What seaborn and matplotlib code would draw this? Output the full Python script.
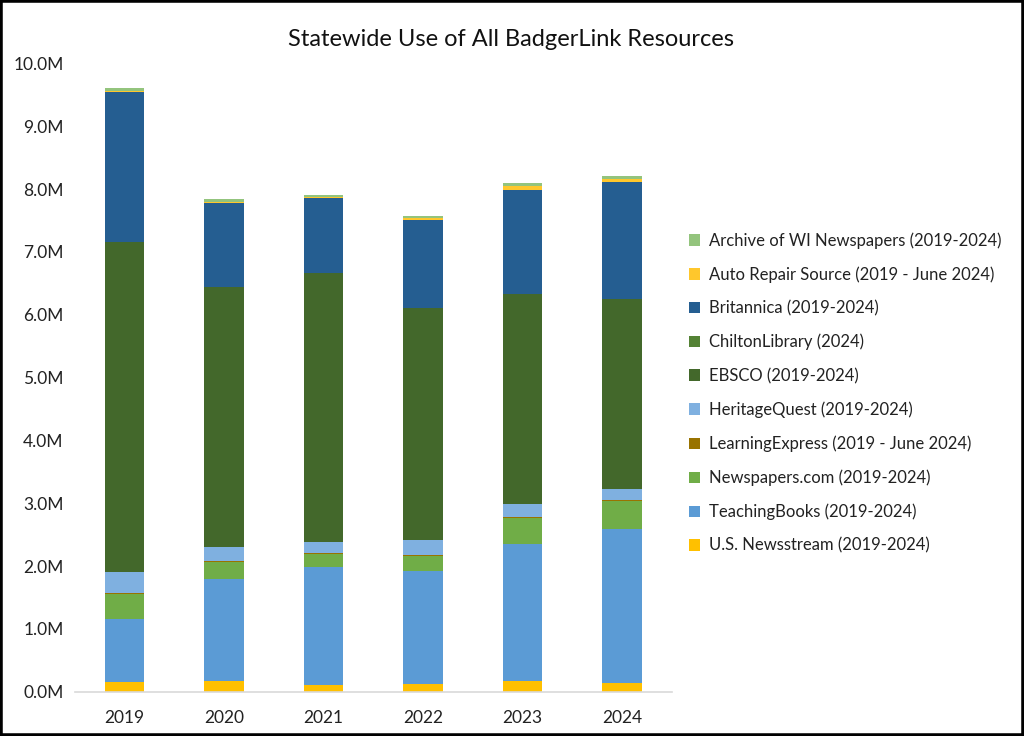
import matplotlib

matplotlib.use("Agg")
import matplotlib.pyplot as plt
import pandas as pd
import seaborn as sns
from matplotlib.patches import Patch, Rectangle
from matplotlib.ticker import FuncFormatter, MultipleLocator

sns.set_style("white")
plt.rcParams["font.family"] = ["Lato", "DejaVu Sans"]

years = [2019, 2020, 2021, 2022, 2023, 2024]

# Segment values (uses)
resources = [
    "Archive of WI Newspapers (2019-2024)",
    "Auto Repair Source (2019 - June 2024)",
    "Britannica (2019-2024)",
    "ChiltonLibrary (2024)",
    "EBSCO (2019-2024)",
    "HeritageQuest (2019-2024)",
    "LearningExpress (2019 - June 2024)",
    "Newspapers.com (2019-2024)",
    "TeachingBooks (2019-2024)",
    "U.S. Newsstream (2019-2024)",
]
archive = [50_000, 50_000, 40_000, 30_000, 40_000, 40_000]
auto_repair = [10_000, 20_000, 20_000, 30_000, 70_000, 50_000]
britannica = [2_400_000, 1_330_000, 1_190_000, 1_410_000, 1_650_000, 1_855_000]
chilton = [0, 0, 0, 0, 0, 5_000]
ebsco = [5_250_000, 4_130_000, 4_270_000, 3_680_000, 3_340_000, 3_030_000]
heritage = [320_000, 235_000, 180_000, 250_000, 215_000, 170_000]
learning = [30_000, 15_000, 10_000, 10_000, 15_000, 10_000]
newspapers = [395_000, 270_000, 210_000, 240_000, 400_000, 450_000]
teaching = [1_000_000, 1_610_000, 1_880_000, 1_790_000, 2_190_000, 2_450_000]
newsstream = [155_000, 180_000, 110_000, 130_000, 170_000, 140_000]

colors = [
    "#93C47D", "#FFC72C", "#255E91", "#548235", "#43682B",
    "#7FB0E0", "#997300", "#70AD47", "#5B9BD5", "#FFC000",
]

series = [archive, auto_repair, britannica, chilton, ebsco,
          heritage, learning, newspapers, teaching, newsstream]
rows = []
for name, vals in zip(resources, series):
    for y, v in zip(years, vals):
        rows.append({"year": y, "resource": name, "uses": v})
df = pd.DataFrame(rows)
palette = dict(zip(resources, colors))

fig = plt.figure(figsize=(10.24, 7.36), dpi=100)
ax = fig.add_axes([0.073, 0.06, 0.583, 0.854])

# First hue level ends up on top of the stack, matching the legend order
sns.histplot(
    data=df, x="year", weights="uses", hue="resource", hue_order=resources,
    multiple="stack", discrete=True, shrink=0.4, palette=palette,
    alpha=1, linewidth=0, legend=False, ax=ax,
)

ax.set_xlim(2018.5, 2024.5)
ax.set_ylim(0, 10_000_000)
ax.set_xticks(years)
ax.set_xticklabels([str(y) for y in years])
ax.yaxis.set_major_locator(MultipleLocator(1_000_000))
ax.yaxis.set_major_formatter(FuncFormatter(lambda v, _: f"{v / 1e6:.1f}M"))
ax.tick_params(axis="both", length=0, labelsize=12.5, colors="#222222")
ax.tick_params(axis="x", pad=13)
ax.tick_params(axis="y", pad=8)
ax.set_xlabel("")
ax.set_ylabel("")
for side in ["top", "right", "left"]:
    ax.spines[side].set_visible(False)
ax.spines["bottom"].set_color("#D9D9D9")
ax.spines["bottom"].set_linewidth(1.2)

fig.text(0.499, 0.946, "Statewide Use of All BadgerLink Resources",
         ha="center", va="center", fontsize=17, color="#111111")

handles = [Patch(facecolor=c, edgecolor="none") for c in colors]
fig.legend(
    handles, resources, loc="center left", bbox_to_anchor=(0.658, 0.466),
    frameon=False, fontsize=12, handlelength=0.7, handleheight=0.7,
    handletextpad=0.5, labelspacing=1.05, labelcolor="#222222",
)

fig.add_artist(Rectangle((0, 0), 1, 1, transform=fig.transFigure,
                         fill=False, edgecolor="black", linewidth=4))

plt.savefig("out.png", dpi=100)
plt.close()
